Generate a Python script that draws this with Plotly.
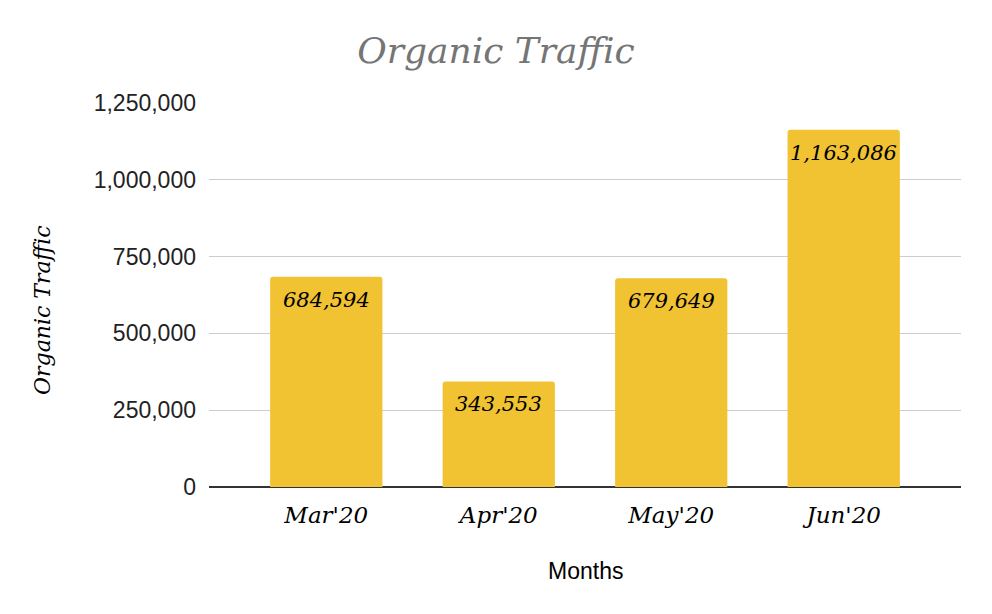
import plotly.graph_objects as go

months = ["Mar'20", "Apr'20", "May'20", "Jun'20"]
traffic = [684594, 343553, 679649, 1163086]
y_ticks = [0, 250000, 500000, 750000, 1000000, 1250000]
y_tick_labels = ["0", "250,000", "500,000", "750,000", "1,000,000", "1,250,000"]

serif = "Georgia, 'DejaVu Serif', serif"
sans = "Arial, 'Liberation Sans', sans-serif"

fig = go.Figure(go.Bar(
    x=months, y=traffic,
    marker=dict(color="#F1C232", line=dict(width=0)),
    width=0.651,
    hoverinfo="x+y",
))

for m, v in zip(months, traffic):
    fig.add_annotation(
        x=m, y=v, xref="x", yref="y", text=f"{v:,}", showarrow=False,
        yanchor="middle", yshift=-23,
        font=dict(family=serif, size=21, color="#000000", style="italic"),
    )

fig.add_annotation(
    text="Organic Traffic", xref="paper", yref="paper",
    x=(42 - 209) / 752, y=(487 - 310) / 384, xanchor="center", yanchor="middle",
    textangle=-90, showarrow=False,
    font=dict(family=serif, size=22, color="#000000", style="italic"),
)
fig.add_annotation(
    text="Months", xref="paper", yref="paper",
    x=0.5, y=(487 - 571) / 384, xanchor="center", yanchor="middle",
    showarrow=False,
    font=dict(family=sans, size=23, color="#000000"),
)

fig.update_layout(
    width=992, height=614,
    margin=dict(l=209, r=31, t=103, b=127),
    paper_bgcolor="white", plot_bgcolor="white",
    barcornerradius=3,
    showlegend=False,
    title=dict(text="Organic Traffic", x=0.5, xanchor="center", y=0.918, yanchor="middle",
               font=dict(family=serif, size=36, color="#757575", style="italic")),
    xaxis=dict(
        range=[-0.68, 3.68], showgrid=False, ticks="", showline=False,
        ticklabelstandoff=12,
        tickfont=dict(family=serif, size=23, color="#000000", style="italic"),
    ),
    yaxis=dict(
        range=[0, 1250000], tickvals=y_ticks, ticktext=y_tick_labels,
        showgrid=True, gridcolor="#CCCCCC", gridwidth=1,
        zeroline=True, zerolinecolor="#333333", zerolinewidth=2,
        ticks="", ticklabelstandoff=12,
        tickfont=dict(family=sans, size=23, color="#222222"),
    ),
)

fig.write_html("out.html")
